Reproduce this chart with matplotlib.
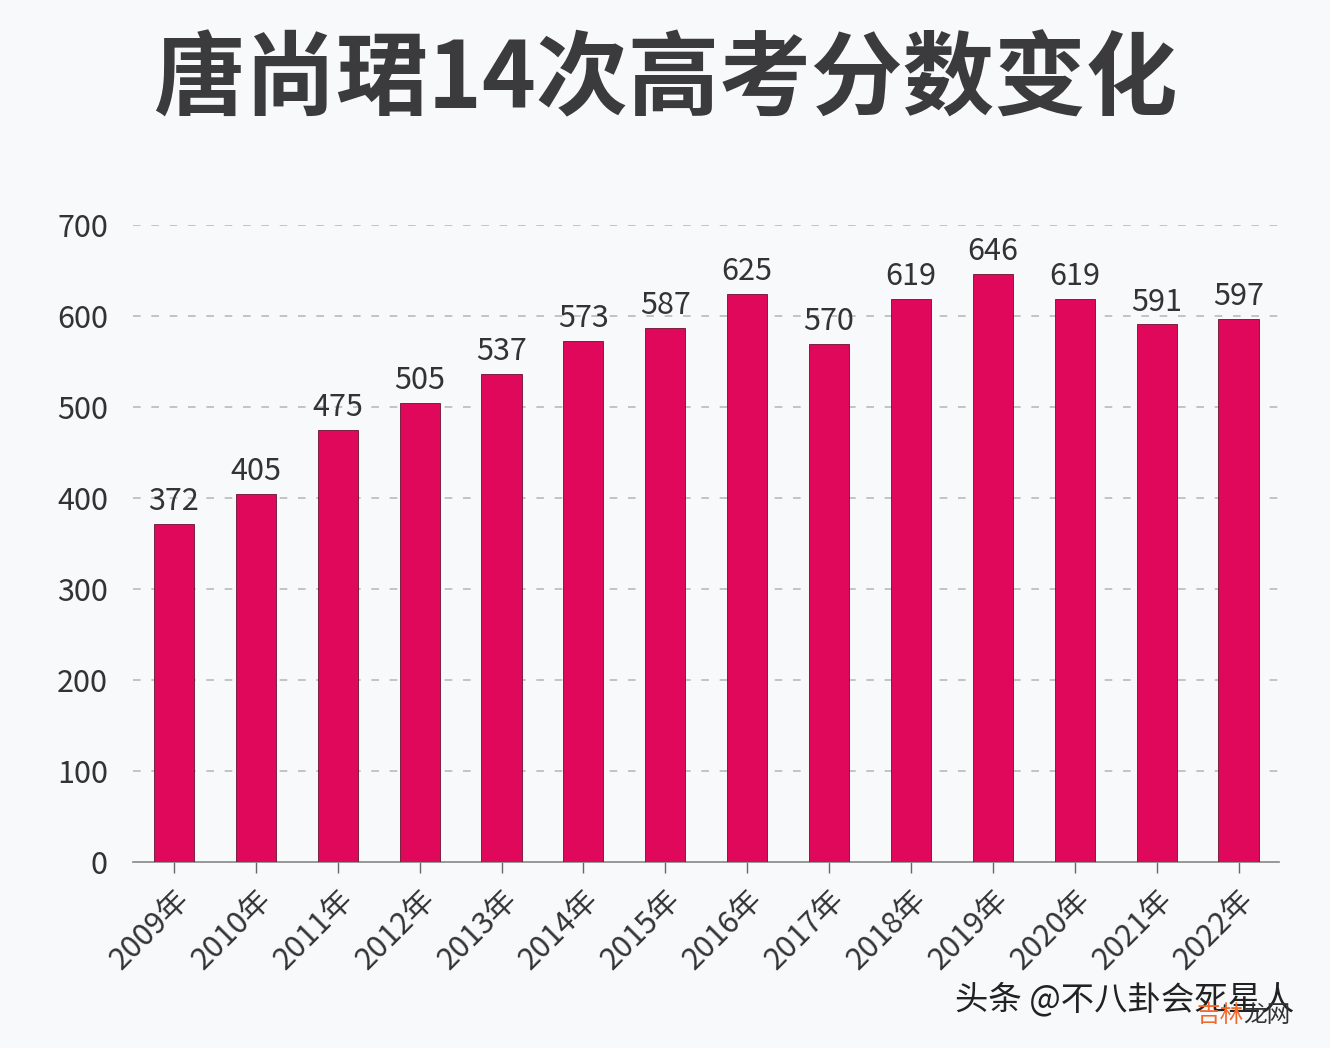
import matplotlib
matplotlib.use("Agg")
import matplotlib.pyplot as plt

plt.rcParams['font.family'] = ['Noto Sans CJK SC', 'DejaVu Sans']

years  = ['2009年', '2010年', '2011年', '2012年', '2013年', '2014年', '2015年',
          '2016年', '2017年', '2018年', '2019年', '2020年', '2021年', '2022年']
scores = [372, 405, 475, 505, 537, 573, 587, 625, 570, 619, 646, 619, 591, 597]
yticks = [0, 100, 200, 300, 400, 500, 600, 700]

BAR_COLOR = '#e0085a'
TEXT_COLOR = '#333333'

fig = plt.figure(figsize=(13.3, 10.48), dpi=100, facecolor='#f8f9fb')
ax = fig.add_axes([0.1, 0.1775, 0.862, 0.6075])
ax.set_facecolor('#f8f9fb')

x = range(len(years))
bars = ax.bar(x, scores, width=0.49, color=BAR_COLOR, edgecolor='#6a1030',
              linewidth=0.6, zorder=3)

# value labels on top of each bar
for rect, val in zip(bars, scores):
    ax.annotate(str(val), (rect.get_x() + rect.get_width() / 2, rect.get_height()),
                xytext=(0, 5), textcoords='offset points', ha='center', va='bottom',
                fontsize=22, fontweight='light', color=TEXT_COLOR,
                annotation_clip=False)

ax.set_xlim(-0.5, len(years) - 0.5)
ax.set_ylim(0, 700)
ax.set_yticks(yticks)
ax.set_yticklabels([str(v) for v in yticks], fontsize=22, fontweight='light',
                   color=TEXT_COLOR)
ax.tick_params(axis='y', length=0, pad=18)

ax.set_xticks(list(x))
ax.set_xticklabels(years, rotation=45, ha='right', rotation_mode='anchor',
                   fontsize=22, fontweight='light', color=TEXT_COLOR)
ax.tick_params(axis='x', length=8, width=1, color='#666666', pad=8)

# dashed horizontal gridlines
for v in yticks[1:]:
    ax.axhline(v, color='#b5b5b5', linestyle=(0, (5, 7)), linewidth=1.1, zorder=1)

for side in ['top', 'right', 'left']:
    ax.spines[side].set_visible(False)
ax.spines['bottom'].set_color('#888888')
ax.spines['bottom'].set_linewidth(1.2)

fig.text(0.5, 0.922, '唐尚珺14次高考分数变化', ha='center', va='center',
         fontsize=66, fontweight='bold', color='#3b3b3d')

# watermarks
fig.text(0.718, 0.046, '头条 @不八卦会死星人', ha='left', va='center',
         fontsize=24, color='#222222')
fig.text(0.9, 0.031, '吉林', ha='left', va='center', fontsize=17, color='#f06a2a')
fig.text(0.9345, 0.031, '龙网', ha='left', va='center', fontsize=17,
         color='#333333')

fig.savefig('out.png', dpi=100, facecolor=fig.get_facecolor())
